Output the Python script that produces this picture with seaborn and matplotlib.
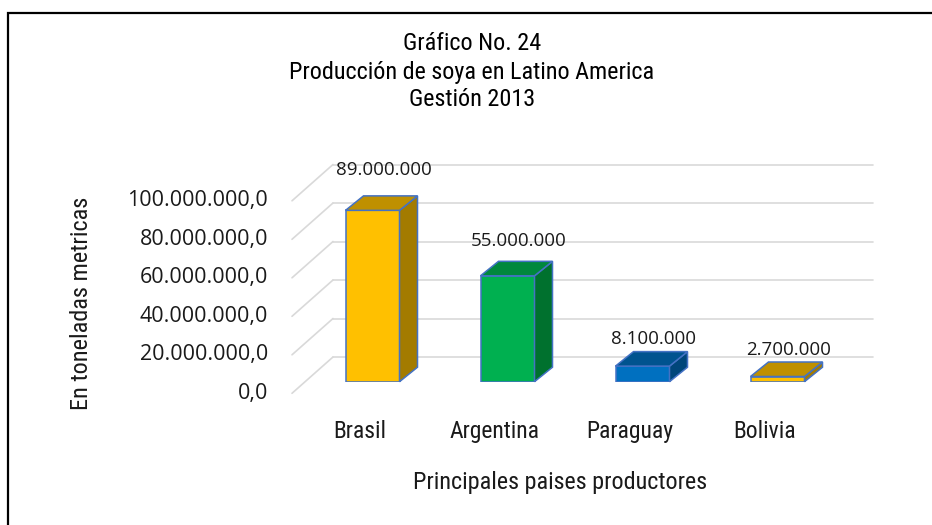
import os
import matplotlib
matplotlib.use("Agg")
import matplotlib.pyplot as plt
import matplotlib.transforms as mtransforms
from matplotlib import font_manager as fm
from matplotlib.patches import Polygon, Rectangle
from matplotlib.lines import Line2D
import seaborn as sns
import pandas as pd

# ---------------- data ----------------
countries = ["Brasil", "Argentina", "Paraguay", "Bolivia"]
production = [89000000, 55000000, 8100000, 2700000]
value_labels = ["89.000.000", "55.000.000", "8.100.000", "2.700.000"]
y_ticks = [0, 20000000, 40000000, 60000000, 80000000, 100000000]
y_tick_labels = ["0,0", "20.000.000,0", "40.000.000,0", "60.000.000,0",
                 "80.000.000,0", "100.000.000,0"]
title_lines = ["Gráfico No. 24", "Producción de soya en Latino America", "Gestión 2013"]
x_title = "Principales paises productores"
y_title = "En toneladas metricas"

front_colors = ["#FFC000", "#00B050", "#0070C0", "#FFC000"]
top_colors = ["#BF9000", "#00883D", "#00538F", "#BF9000"]
side_colors = ["#A37B00", "#00712E", "#00467A", "#A37B00"]
edge_color = "#4472C4"

# ---------------- style ----------------
sns.set_style("white")
numfont = ["Open Sans", "DejaVu Sans"]


def find_narrow():
    keys = ["liberationsansnarrow-regular", "arialn", "robotocondensed-regular",
            "notosans-condensed.", "notosanscondensed-regular", "dejavusanscondensed."]
    files = [f.fname for f in fm.fontManager.ttflist]
    for k in keys:
        for fn in files:
            if k in os.path.basename(fn).lower():
                return fn
    return None


narrow_file = find_narrow()


def narrow_fp(size):
    if narrow_file:
        return fm.FontProperties(fname=narrow_file, size=size)
    return fm.FontProperties(family=["Liberation Sans", "DejaVu Sans"], size=size)


W, H = 932, 525
fig = plt.figure(figsize=(W / 100, H / 100), dpi=100)
fig.patch.set_facecolor("white")
renderer = fig.canvas.get_renderer()


def fit_width(txt, target_px):
    """scale a text's font size so its rendered width matches the reference"""
    w = txt.get_window_extent(renderer=renderer).width
    if w > 0:
        txt.set_fontsize(txt.get_fontsize() * target_px / w)


# bar plane axes (pixel geometry of the reference)
ax = fig.add_axes([305 / W, (H - 381.7) / H, 540 / W, 192.5 / H])
df = pd.DataFrame({"pais": countries, "prod": production})
sns.barplot(data=df, x="pais", y="prod", hue="pais", palette=front_colors,
            saturation=1, width=0.40, edgecolor=edge_color, linewidth=1.1,
            legend=False, ax=ax, zorder=3, err_kws={"linewidth": 0})
ax.set_xlim(-0.5, 3.5)
ax.set_ylim(0, 100000000)
for s in ax.spines.values():
    s.set_visible(False)
ax.set_xticks([])
ax.set_yticks([])
ax.set_xlabel("")
ax.set_ylabel("")
ax.patch.set_visible(False)

# depth offsets (pixels)
back_dx, back_dy = 28, 24.7
front_dx, front_dy = -13, -11.6
bar_dx, bar_dy = 18, 14.5

back_tr = mtransforms.offset_copy(ax.transData, fig=fig, x=back_dx, y=back_dy, units="dots")
front_tr = mtransforms.offset_copy(ax.transData, fig=fig, x=front_dx, y=front_dy, units="dots")
inv_fig = fig.transFigure.inverted()

grid_color = "#D9D9D9"
for v in y_ticks:
    ax.plot([-0.5, 3.5], [v, v], transform=back_tr, color=grid_color, lw=1.2,
            zorder=1, clip_on=False)
    f1 = inv_fig.transform(front_tr.transform((-0.5, v)))
    f2 = inv_fig.transform(back_tr.transform((-0.5, v)))
    fig.add_artist(Line2D([f1[0], f2[0]], [f1[1], f2[1]], transform=fig.transFigure,
                          color=grid_color, lw=1.2, zorder=0.5))

# y tick labels on the front plane
lab_tr = mtransforms.offset_copy(ax.transData, fig=fig, x=front_dx - 24, y=front_dy, units="dots")
for v, t in zip(y_ticks, y_tick_labels):
    ax.text(-0.5, v, t, transform=lab_tr, ha="right", va="center",
            fontsize=15.5, family=numfont, color="#1a1a1a", clip_on=False)

# 3D faces of the bars, value labels and category labels
cat_texts = []
for i, p in enumerate(ax.patches[:len(countries)]):
    x0, w, h = p.get_x(), p.get_width(), p.get_height()
    bl = ax.transData.transform((x0, 0))
    tr = ax.transData.transform((x0 + w, h))
    side = [(tr[0], bl[1]), (tr[0] + bar_dx, bl[1] + bar_dy),
            (tr[0] + bar_dx, tr[1] + bar_dy), (tr[0], tr[1])]
    top = [(bl[0], tr[1]), (tr[0], tr[1]), (tr[0] + bar_dx, tr[1] + bar_dy),
           (bl[0] + bar_dx, tr[1] + bar_dy)]
    fig.add_artist(Polygon(inv_fig.transform(side), closed=True, transform=fig.transFigure,
                           facecolor=side_colors[i], edgecolor=edge_color, lw=1.1, zorder=4))
    fig.add_artist(Polygon(inv_fig.transform(top), closed=True, transform=fig.transFigure,
                           facecolor=top_colors[i], edgecolor=edge_color, lw=1.1, zorder=4))
    bar_h_px = tr[1] - bl[1]
    ax.annotate(value_labels[i], xy=(x0 + w / 2, h), xytext=(11, 26 + 0.084 * bar_h_px),
                textcoords="offset pixels", ha="center", va="center",
                fontsize=13.5, family=numfont, color="#1a1a1a", annotation_clip=False)
    t = ax.annotate(countries[i], xy=(x0 + w / 2, 0), xytext=(-13, -50),
                    textcoords="offset pixels", ha="center", va="center",
                    fontproperties=narrow_fp(18), color="#1a1a1a", annotation_clip=False)
    cat_texts.append(t)

# match category label widths ("Argentina" is about 90 px wide in the reference)
w_arg = cat_texts[1].get_window_extent(renderer=renderer).width
for t in cat_texts:
    t.set_fontsize(t.get_fontsize() * 90 / w_arg)

# titles
title_texts = []
for k, line in enumerate(title_lines):
    title_texts.append(fig.text(472 / W, 1 - (44 + 28 * k) / H, line, ha="center",
                                va="center", fontproperties=narrow_fp(17.5), color="#000000"))
w_t = title_texts[1].get_window_extent(renderer=renderer).width
for t in title_texts:
    t.set_fontsize(t.get_fontsize() * 366 / w_t)

xt = fig.text(560 / W, 1 - 482 / H, x_title, ha="center", va="center",
              fontproperties=narrow_fp(18), color="#1a1a1a")
fit_width(xt, 295)
yt = fig.text(82 / W, 1 - 303 / H, y_title, ha="center", va="center", rotation=90,
              fontproperties=narrow_fp(18), color="#1a1a1a")
h_y = yt.get_window_extent(renderer=renderer).height
yt.set_fontsize(yt.get_fontsize() * 213 / h_y)

# outer chart frame
fig.add_artist(Rectangle((8 / W, -0.1), 2.0, 1 - 13 / H + 0.1, fill=False,
                         edgecolor="black", lw=1.6, transform=fig.transFigure,
                         clip_on=False, zorder=10))

fig.savefig("out.png", dpi=100, facecolor="white")
